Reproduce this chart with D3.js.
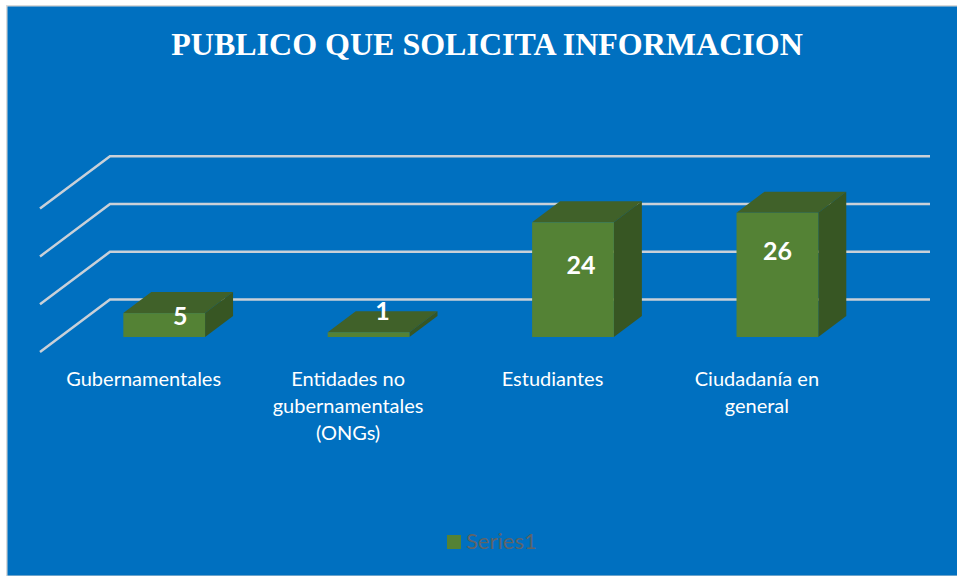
<!DOCTYPE html>
<html>
<head>
<meta charset="utf-8">
<script src="https://cdn.jsdelivr.net/npm/d3@7"></script>
<style>
  html, body { margin: 0; padding: 0; background: #fff; overflow: hidden; }
  svg { display: block; }
</style>
</head>
<body>
<svg id="chart" width="957" height="576"></svg>
<script>
// Public asking for information: fake-3D column chart, one series.
const categories = ["Gubernamentales", "Entidades no gubernamentales (ONGs)", "Estudiantes", "Ciudadanía en general"];
const categoryLines = [["Gubernamentales"], ["Entidades no", "gubernamentales", "(ONGs)"], ["Estudiantes"], ["Ciudadanía en", "general"]];
const values = [5, 1, 24, 26];
const gridTicks = [0, 10, 20, 30];

const titleText = "PUBLICO QUE SOLICITA INFORMACION";
const seriesName = "Series1";

// Excel leaves the data labels off-centre, so these are nudges from the top of the bar front
const labelNudgeX = [16, 14, 8, 0];
const labelNudgeY = [12, -12, 52, 47];

const WIDTH = 957, HEIGHT = 576;
const BASE_Y = 337;            // where the bar fronts stand
const DEPTH_X = 28, DEPTH_Y = 21;

const x = d3.scaleBand()
  .domain(categories)
  .range([62, 879.6])
  .paddingInner(0.6)
  .paddingOuter(0.3);

const y = d3.scaleLinear().domain([0, 30]).range([BASE_Y, BASE_Y - 143.4]);

const svg = d3.select("#chart");

svg.append("rect").attr("x", 6).attr("y", 5).attr("width", WIDTH - 6).attr("height", HEIGHT - 5).attr("fill", "#d9d9d9");
svg.append("rect").attr("x", 7.5).attr("y", 6.5).attr("width", WIDTH - 7.5).attr("height", HEIGHT - 7).attr("fill", "#0070c0");

svg.append("text")
  .attr("x", 487).attr("y", 55)
  .attr("text-anchor", "middle")
  .attr("font-family", "'Liberation Serif', serif")
  .attr("font-weight", "bold")
  .attr("font-size", 32)
  .attr("fill", "#fff")
  .text(titleText);

// gridlines: a slanted piece on the side wall, then the long back-wall run
const grid = svg.append("g");
grid.selectAll("path")
  .data(gridTicks)
  .join("path")
  .attr("d", d => `M40,${y(d) + 15}L110,${y(d) - 37.4}H930`)
  .attr("fill", "none")
  .attr("stroke", "#c9d0d8")
  .attr("stroke-width", 2.5);

const bars = svg.append("g").selectAll("g")
  .data(values)
  .join("g");

const left = (d, i) => x(categories[i]);
const right = (d, i) => left(d, i) + x.bandwidth();

bars.append("path") // top
  .attr("d", (d, i) => `M${left(d, i)},${y(d)}l${DEPTH_X},${-DEPTH_Y}H${right(d, i) + DEPTH_X}l${-DEPTH_X},${DEPTH_Y}Z`)
  .attr("fill", "#406129");

bars.append("path") // side
  .attr("d", (d, i) => `M${right(d, i)},${y(d)}l${DEPTH_X},${-DEPTH_Y}V${BASE_Y - DEPTH_Y}l${-DEPTH_X},${DEPTH_Y}Z`)
  .attr("fill", "#375623");

bars.append("rect") // front
  .attr("x", left)
  .attr("y", d => y(d))
  .attr("width", x.bandwidth())
  .attr("height", d => BASE_Y - y(d))
  .attr("fill", "#548235");

bars.append("text")
  .attr("x", (d, i) => left(d, i) + x.bandwidth() / 2 + labelNudgeX[i])
  .attr("y", (d, i) => y(d) + labelNudgeY[i])
  .attr("text-anchor", "middle")
  .attr("font-family", "Lato, sans-serif")
  .attr("font-weight", "bold")
  .attr("font-size", 25)
  .attr("fill", "#fff")
  .text(d => d);

// category labels sit a bit left of their bars, as in the original
svg.append("g").selectAll("text")
  .data(categoryLines)
  .join("text")
  .attr("text-anchor", "middle")
  .attr("font-family", "Lato, sans-serif")
  .attr("font-size", 20)
  .attr("fill", "#fff")
  .each(function (lines, i) {
    const cx = x(categories[i]) + x.bandwidth() / 2 - 20.5;
    d3.select(this).selectAll("tspan")
      .data(lines)
      .join("tspan")
      .attr("x", cx)
      .attr("y", (l, j) => 386 + j * 27)
      .text(l => l);
  });

const legend = svg.append("g");
legend.append("rect").attr("x", 447).attr("y", 535).attr("width", 14).attr("height", 14).attr("fill", "#548235");
legend.append("text")
  .attr("x", 466).attr("y", 549)
  .attr("font-family", "Lato, sans-serif")
  .attr("font-size", 22)
  .attr("fill", "#5f6468")
  .text(seriesName);
</script>
</body>
</html>
